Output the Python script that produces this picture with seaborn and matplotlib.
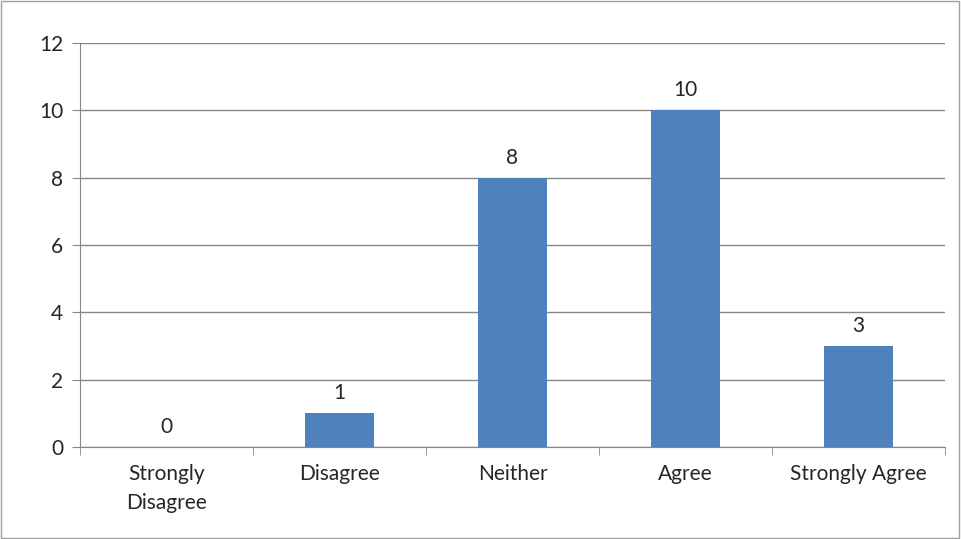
import matplotlib
matplotlib.use("Agg")
import matplotlib.pyplot as plt
import seaborn as sns
import pandas as pd

categories = ["Strongly\nDisagree", "Disagree", "Neither", "Agree", "Strongly Agree"]
counts = [0, 1, 8, 10, 3]

sns.set_style("white")
plt.rcParams["font.family"] = ["Lato", "DejaVu Sans"]

df = pd.DataFrame({"category": categories, "count": counts})

fig = plt.figure(figsize=(9.61, 5.39), dpi=100)
fig.patches.append(plt.Rectangle((0.001, 0.001), 0.997, 0.997, transform=fig.transFigure,
                                 fill=False, edgecolor="#a0a0a0", linewidth=1))
ax = fig.add_axes([0.0832, 0.1707, 0.9001, 0.7495])
sns.barplot(data=df, x="category", y="count", color="#4F81BD", width=0.4,
            saturation=1, linewidth=0, ax=ax)

ax.set_ylim(0, 12)
ax.set_xlim(-0.5, 4.5)
ax.set_yticks(range(0, 13, 2))
ax.yaxis.grid(True, color="#868686", linewidth=1)
ax.set_axisbelow(True)
for s in ["top", "right"]:
    ax.spines[s].set_visible(False)
for s in ["left", "bottom"]:
    ax.spines[s].set_color("#868686")
ax.set_xlabel("")
ax.set_ylabel("")
ax.tick_params(axis="y", left=True, length=6, color="#868686", labelsize=15, pad=6)
ax.set_xticks(range(len(categories)))
ax.set_xticklabels(categories, fontsize=15, linespacing=1.55)
ax.tick_params(axis="x", bottom=False, pad=9)
# category boundary ticks
ax.set_xticks([i - 0.5 for i in range(len(categories) + 1)], minor=True)
ax.tick_params(axis="x", which="minor", bottom=True, length=6, color="#868686")

for i, v in enumerate(counts):
    ax.text(i, v + 0.3, str(v), ha="center", va="bottom", fontsize=15)

fig.savefig("out.png", dpi=100)
